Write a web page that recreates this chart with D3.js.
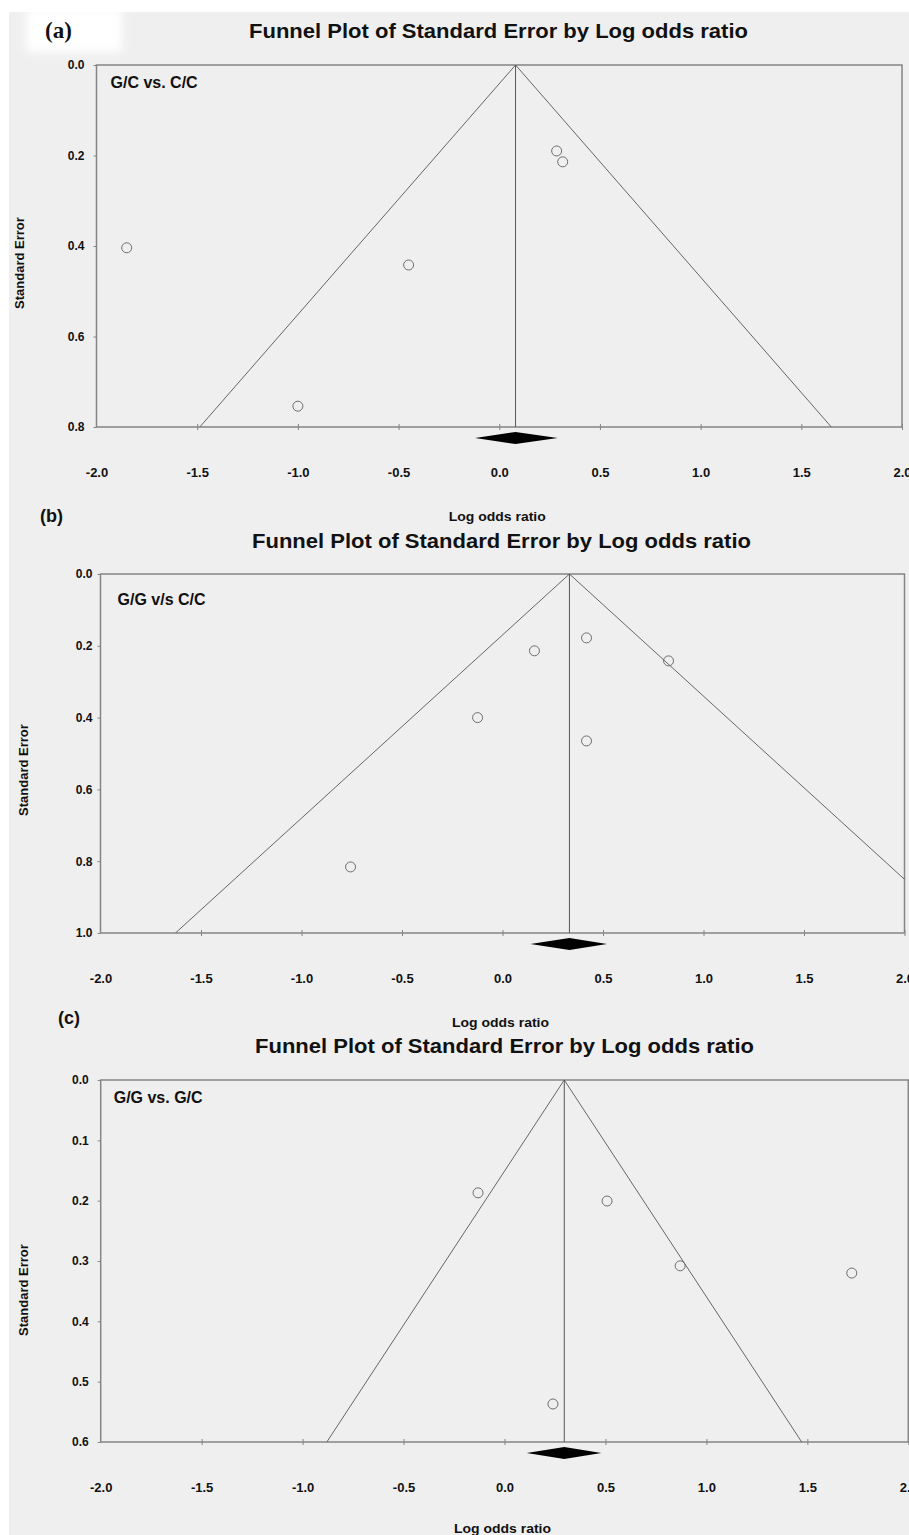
<!DOCTYPE html>
<html>
<head>
<meta charset="utf-8">
<script src="https://cdn.jsdelivr.net/npm/d3@7"></script>
<style>
  html, body { margin: 0; padding: 0; background: #ffffff; }
  svg { display: block; }
</style>
</head>
<body>
<svg id="chart" width="909" height="1535"></svg>
<script>
// ---- data ----------------------------------------------------------------
const chartTitle = "Funnel Plot of Standard Error by Log odds ratio";
const xAxisTitle = "Log odds ratio";
const yAxisTitle = "Standard Error";
const panelLetters = ["(a)", "(b)", "(c)"];
const comparisons = ["G/C vs. C/C", "G/G v/s C/C", "G/G vs. G/C"];
const lorTicks = [-2.0, -1.5, -1.0, -0.5, 0.0, 0.5, 1.0, 1.5, 2.0];

// (a) G/C vs. C/C
const lorA = [-1.85, -1.00, -0.45, 0.285, 0.315];
const seA = [0.404, 0.754, 0.442, 0.190, 0.214];
const pooledA = [-0.12, 0.081, 0.29];          // lower, estimate, upper
const seTicksA = [0.0, 0.2, 0.4, 0.6, 0.8];

// (b) G/G v/s C/C
const lorB = [0.159, 0.418, 0.826, -0.124, 0.418, -0.756];
const seB = [0.214, 0.178, 0.242, 0.400, 0.465, 0.816];
const pooledB = [0.139, 0.333, 0.52];
const seTicksB = [0.0, 0.2, 0.4, 0.6, 0.8, 1.0];

// (c) G/G vs. G/C
const lorC = [-0.131, 0.508, 0.87, 1.72, 0.24];
const seC = [0.187, 0.2006, 0.308, 0.320, 0.537];
const pooledC = [0.11, 0.296, 0.48];
const seTicksC = [0.0, 0.1, 0.2, 0.3, 0.4, 0.5, 0.6];

// ---- layout --------------------------------------------------------------
const panels = [
  { lor: lorA, se: seA, pooled: pooledA, seTicks: seTicksA,
    left: 96.5, right: 902, top: 65, bottom: 427,
    titleX: 498.5, titleY: 38, letterX: 45, letterY: 38, serifLetter: true,
    labelDx: 14, labelDy: 23, yTitleX: 19, yTitleY: 263, yLabelGap: 12, xTitleY: 521 },
  { lor: lorB, se: seB, pooled: pooledB, seTicks: seTicksB,
    left: 100.5, right: 904.5, top: 574, bottom: 933,
    titleX: 501.5, titleY: 548, letterX: 40, letterY: 522, serifLetter: false,
    labelDx: 17, labelDy: 31, yTitleX: 23, yTitleY: 770, yLabelGap: 8, xTitleY: 1027 },
  { lor: lorC, se: seC, pooled: pooledC, seTicks: seTicksC,
    left: 100.7, right: 908.3, top: 1080, bottom: 1442,
    titleX: 504.5, titleY: 1053, letterX: 58, letterY: 1024, serifLetter: false,
    labelDx: 13, labelDy: 23, yTitleX: 23, yTitleY: 1290, yLabelGap: 12, xTitleY: 1533 }
];

const SANS = "'Liberation Sans', Arial, Helvetica, sans-serif";
const SERIF = "'Liberation Serif', 'Times New Roman', serif";
const fmt = d => d.toFixed(1);

const svg = d3.select("#chart");
const defs = svg.append("defs");
defs.append("filter").attr("id", "soft")
  .attr("x", "-30%").attr("y", "-30%").attr("width", "160%").attr("height", "160%")
  .append("feGaussianBlur").attr("stdDeviation", 4);

// page: white margin on the left and top, grey sheet behind the plots
svg.append("rect").attr("x", 0).attr("y", 0).attr("width", 909).attr("height", 1535).attr("fill", "#ffffff");
svg.append("rect").attr("x", 9).attr("y", 12).attr("width", 900).attr("height", 1523).attr("fill", "#efefef");
// white patch behind the "(a)" letter
svg.append("rect").attr("x", 26).attr("y", 8).attr("width", 96).attr("height", 44)
  .attr("fill", "#ffffff").attr("filter", "url(#soft)");

panels.forEach((p, i) => {
  const x = d3.scaleLinear().domain([-2, 2]).range([p.left, p.right]);
  const y = d3.scaleLinear().domain([0, d3.max(p.seTicks)]).range([p.top, p.bottom]);
  const seMax = d3.max(p.seTicks);
  const [lo, est, hi] = p.pooled;
  const g = svg.append("g");

  const clipId = "clip" + i;
  defs.append("clipPath").attr("id", clipId)
    .append("rect").attr("x", p.left).attr("y", p.top)
    .attr("width", p.right - p.left).attr("height", p.bottom - p.top);

  // chart title and panel letter
  g.append("text").attr("x", p.titleX).attr("y", p.titleY)
    .attr("text-anchor", "middle").attr("font-family", SANS).attr("font-weight", "bold")
    .attr("font-size", 21).attr("textLength", 499).attr("lengthAdjust", "spacingAndGlyphs")
    .attr("fill", "#111").text(chartTitle);
  g.append("text").attr("x", p.letterX).attr("y", p.letterY)
    .attr("font-family", p.serifLetter ? SERIF : SANS).attr("font-weight", "bold")
    .attr("font-size", p.serifLetter ? 23 : 18).attr("fill", "#111").text(panelLetters[i]);

  // frame
  g.append("rect").attr("x", p.left).attr("y", p.top)
    .attr("width", p.right - p.left).attr("height", p.bottom - p.top)
    .attr("fill", "none").attr("stroke", "#858585").attr("stroke-width", 1.5);

  // x axis: ticks straddle the bottom edge
  const xAxis = g.append("g").attr("transform", `translate(0,${p.bottom - 3})`)
    .call(d3.axisBottom(x).tickValues(lorTicks).tickFormat(fmt).tickSize(6).tickPadding(38));
  xAxis.select(".domain").remove();
  xAxis.selectAll(".tick line").attr("stroke", "#858585");
  xAxis.selectAll(".tick text").attr("font-family", SANS).attr("font-weight", "bold")
    .attr("font-size", 13).attr("fill", "#111");
  xAxis.selectAll(".tick").filter(d => d === -2).select("line").remove();

  // y axis
  const yAxis = g.append("g").attr("transform", `translate(${p.left},0)`)
    .call(d3.axisLeft(y).tickValues(p.seTicks).tickFormat(fmt).tickSize(3).tickPadding(p.yLabelGap - 3));
  yAxis.select(".domain").remove();
  yAxis.selectAll(".tick line").attr("stroke", "#858585");
  yAxis.selectAll(".tick text").attr("font-family", SANS).attr("font-weight", "bold")
    .attr("font-size", 12).attr("fill", "#111");

  // axis titles
  g.append("text").attr("x", x(0) - 2).attr("y", p.xTitleY)
    .attr("text-anchor", "middle").attr("font-family", SANS).attr("font-weight", "bold")
    .attr("font-size", 13).attr("textLength", 97).attr("lengthAdjust", "spacingAndGlyphs")
    .attr("fill", "#111").text(xAxisTitle);
  g.append("text")
    .attr("transform", `translate(${p.yTitleX},${p.yTitleY}) rotate(-90)`)
    .attr("text-anchor", "middle").attr("dy", "0.35em")
    .attr("font-family", SANS).attr("font-weight", "bold").attr("font-size", 13)
    .attr("fill", "#111").text(yAxisTitle);

  // comparison label
  g.append("text").attr("x", p.left + p.labelDx).attr("y", p.top + p.labelDy)
    .attr("font-family", SANS).attr("font-weight", "bold").attr("font-size", 16)
    .attr("fill", "#111").text(comparisons[i]);

  // funnel and pooled-estimate line
  const plot = g.append("g").attr("clip-path", `url(#${clipId})`);
  const funnel = [[est - 1.96 * seMax, seMax], [est, 0], [est + 1.96 * seMax, seMax]];
  plot.append("path")
    .attr("d", d3.line().x(d => x(d[0])).y(d => y(d[1]))(funnel))
    .attr("fill", "none").attr("stroke", "#666").attr("stroke-width", 1);
  plot.append("line")
    .attr("x1", x(est)).attr("x2", x(est)).attr("y1", y(0)).attr("y2", y(seMax))
    .attr("stroke", "#555").attr("stroke-width", 1);

  // studies
  plot.selectAll("circle.study").data(p.lor.map((v, k) => [v, p.se[k]]))
    .join("circle").attr("class", "study")
    .attr("cx", d => x(d[0])).attr("cy", d => y(d[1])).attr("r", 5)
    .attr("fill", "none").attr("stroke", "#6e6e6e").attr("stroke-width", 1);

  // pooled-estimate diamond below the axis
  const dy = p.bottom + 11, h = 6;
  g.append("path")
    .attr("d", `M${x(lo)},${dy}L${x(est)},${dy - h}L${x(hi)},${dy}L${x(est)},${dy + h}Z`)
    .attr("fill", "#000");
});
</script>
</body>
</html>
